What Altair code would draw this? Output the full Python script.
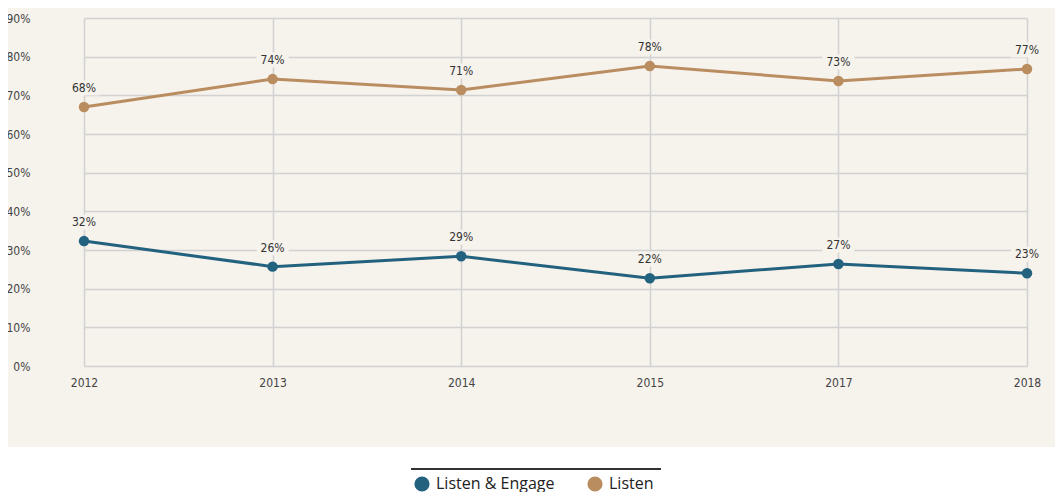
import altair as alt
import pandas as pd

years = ["2012", "2013", "2014", "2015", "2017", "2018"]
engage = [32.3, 25.7, 28.4, 22.7, 26.4, 24.0]
listen = [67.0, 74.2, 71.4, 77.6, 73.7, 76.8]
engage_labels = ["32%", "26%", "29%", "22%", "27%", "23%"]
listen_labels = ["68%", "74%", "71%", "78%", "73%", "77%"]
series = ["Listen & Engage", "Listen"]
colors = ["#23627f", "#b98d5f"]
y_ticks = [0, 10, 20, 30, 40, 50, 60, 70, 80, 90]

rows = []
for y, v, l in zip(years, engage, engage_labels):
    rows.append({"year": y, "value": v / 100, "label": l, "series": series[0]})
for y, v, l in zip(years, listen, listen_labels):
    rows.append({"year": y, "value": v / 100, "label": l, "series": series[1]})
df = pd.DataFrame(rows)

BG = "#f6f2ec"
W, H = 1014, 348
FONT = "DejaVu Sans Condensed, Roboto, sans-serif"

x = alt.X("year:N", sort=years,
          scale=alt.Scale(type="point", range=[43, 986], padding=0),
          axis=alt.Axis(title=None, labelAngle=0, grid=True, ticks=False, domain=False,
                        labelPadding=11, labelFont=FONT, labelFontSize=12, labelColor="#444444",
                        gridColor="#d2d2d2", gridWidth=1.5))
y = alt.Y("value:Q", scale=alt.Scale(domain=[0, 0.9], nice=False),
          axis=alt.Axis(title=None, format=".0%", values=[t / 100 for t in y_ticks], grid=True,
                        ticks=False, domain=False, labelPadding=11, labelFont=FONT,
                        labelFontSize=12, labelColor="#444444",
                        gridColor="#d2d2d2", gridWidth=1.5))
cscale = alt.Scale(domain=series, range=colors)

base = alt.Chart(df)

white = base.mark_rect(color="white").encode(
    x=alt.value(-45), x2=alt.value(W + 10), y=alt.value(429), y2=alt.value(520)
)

lines = base.mark_line(strokeWidth=3).encode(
    x=x, y=y, color=alt.Color("series:N", scale=cscale, legend=None), detail="series:N"
)

points = base.mark_circle(size=110, opacity=1).encode(
    x=x, y=y, color=alt.Color("series:N", scale=cscale, legend=None)
)

label_bg = base.mark_point(
    shape="M-1.6,-0.75H1.6V0.75H-1.6Z", size=400, filled=True, fill=BG, strokeWidth=0,
    opacity=1, yOffset=-19
).encode(x=x, y=y)

labels = base.mark_text(font=FONT, fontSize=12, color="#333333", yOffset=-19,
                        baseline="middle").encode(x=x, y=y, text="label:N")

rule = base.mark_rule(color="#333333", strokeWidth=1).encode(
    x=alt.value(370), x2=alt.value(620), y=alt.value(451)
)

# legend entries (manual)
legend_layers = []
legend_sym_x = [381, 554]
LEG_Y = 466
for name, col, sx in zip(series, colors, legend_sym_x):
    ldf = pd.DataFrame({"series": [name]})
    legend_layers.append(
        alt.Chart(ldf).mark_circle(size=230, opacity=1, color=col).encode(
            x=alt.value(sx), y=alt.value(LEG_Y))
    )
    legend_layers.append(
        alt.Chart(ldf).mark_text(font="Open Sans", fontSize=16, color="#222222",
                                 align="left", baseline="middle").encode(
            x=alt.value(sx + 14), y=alt.value(LEG_Y), text="series:N")
    )

chart = alt.layer(white, lines, points, label_bg, labels, rule, *legend_layers).properties(
    width=W, height=H,
    autosize=alt.AutoSizeParams(type="none"),
    padding={"left": 33, "top": 10, "right": 0, "bottom": 126},
    background=BG,
).configure_view(stroke=None)

chart.save("out.html", embed_options={"renderer": "svg", "actions": False})
